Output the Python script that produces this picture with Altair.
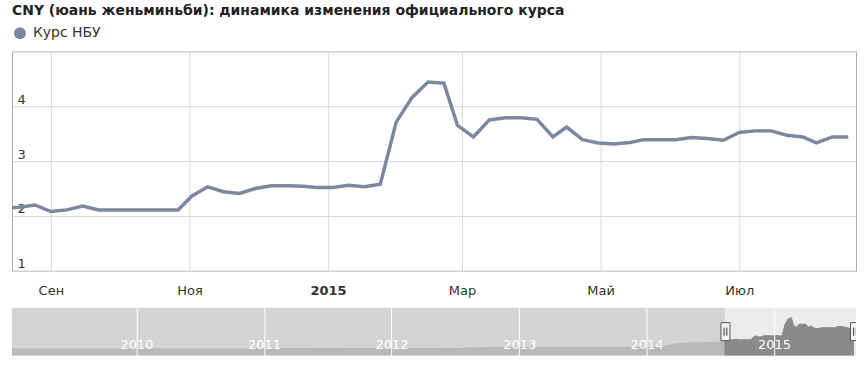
import altair as alt
import pandas as pd

# ---------------- data ----------------
dates = ["2014-08-12", "2014-08-18", "2014-08-25", "2014-09-01", "2014-09-08", "2014-09-15",
         "2014-09-22", "2014-09-29", "2014-10-06", "2014-10-13", "2014-10-20", "2014-10-27",
         "2014-11-02", "2014-11-09", "2014-11-16", "2014-11-23", "2014-11-30", "2014-12-07",
         "2014-12-14", "2014-12-21", "2014-12-27", "2015-01-03", "2015-01-10", "2015-01-17",
         "2015-01-24", "2015-01-31", "2015-02-07", "2015-02-14", "2015-02-21", "2015-02-27",
         "2015-03-06", "2015-03-13", "2015-03-20", "2015-03-27", "2015-04-03", "2015-04-10",
         "2015-04-16", "2015-04-23", "2015-04-30", "2015-05-07", "2015-05-14", "2015-05-20",
         "2015-05-28", "2015-06-03", "2015-06-10", "2015-06-17", "2015-06-24", "2015-07-01",
         "2015-07-08", "2015-07-15", "2015-07-22", "2015-07-29", "2015-08-04", "2015-08-11",
         "2015-08-18"]
rates = [2.14, 2.16, 2.20, 2.08, 2.11, 2.18,
         2.11, 2.11, 2.11, 2.11, 2.11, 2.11,
         2.36, 2.53, 2.44, 2.41, 2.50, 2.55,
         2.55, 2.54, 2.52, 2.52, 2.56, 2.53,
         2.58, 3.71, 4.16, 4.44, 4.42, 3.65,
         3.44, 3.75, 3.79, 3.79, 3.76, 3.44,
         3.62, 3.39, 3.33, 3.31, 3.34, 3.39,
         3.39, 3.39, 3.43, 3.41, 3.38, 3.52,
         3.55, 3.55, 3.47, 3.44, 3.33, 3.44,
         3.44]

nav_early_dates = ["2009-01-09", "2009-07-01", "2010-01-01", "2010-07-01", "2011-01-01",
                   "2011-07-01", "2012-01-01", "2012-07-01", "2012-10-15", "2013-07-01",
                   "2014-01-15", "2014-02-15", "2014-03-15", "2014-04-15", "2014-05-15",
                   "2014-06-15", "2014-07-15", "2014-08-05"]
nav_early_rates = [1.14, 1.14, 1.14, 1.15, 1.16,
                   1.17, 1.16, 1.17, 1.30, 1.31,
                   1.32, 1.45, 1.60, 1.75, 1.80,
                   1.83, 1.85, 1.90]

series_name = "Курс НБУ"
title_text = "CNY (юань женьминьби): динамика изменения официального курса"
month_names = ["Янв", "Фев", "Мар", "Апр", "Май", "Июн", "Июл", "Авг", "Сен", "Окт", "Ноя", "Дек"]
x_tick_dates = [(2014, 9), (2014, 11), (2015, 1), (2015, 3), (2015, 5), (2015, 7)]
y_ticks = [1, 2, 3, 4, 5]
nav_years = [2010, 2011, 2012, 2013, 2014, 2015]

# ---------------- styling ----------------
LINE = "#7b88a0"
FONT = "DejaVu Sans"
W = 846

main_df = pd.DataFrame({"date": dates, "rate": rates, "series": series_name})
nav_df = pd.DataFrame({"date": nav_early_dates + dates, "rate": nav_early_rates + rates})
sel_df = pd.DataFrame({"date": dates, "rate": rates})

view_start = alt.DateTime(year=2014, month=8, date=14, hours=21, utc=True)
view_end = alt.DateTime(year=2015, month=8, date=21, hours=10, utc=True)
nav_start = alt.DateTime(year=2009, month=1, date=9, utc=True)
nav_end = alt.DateTime(year=2015, month=8, date=24, utc=True)

names_js = "[" + ",".join("'%s'" % m for m in month_names) + "]"
x_label_expr = ("utcmonth(datum.value) == 0 ? utcFormat(datum.value, '%Y') : "
                + names_js + "[utcmonth(datum.value)]")

x_axis = alt.Axis(
    values=[alt.DateTime(year=y, month=m, date=1, utc=True) for y, m in x_tick_dates],
    labelExpr=x_label_expr, grid=True, gridColor="#d9d9d9", ticks=False, tickSize=0,
    domain=False, labelPadding=14, labelFont=FONT, labelFontSize=13, labelColor="#333333",
    labelFontWeight={"condition": {"test": "utcmonth(datum.value) == 0", "value": "bold"},
                     "value": "normal"},
    title=None,
)
y_axis = alt.Axis(
    values=y_ticks, labelExpr="datum.value == 5 ? '' : datum.label", grid=True,
    gridColor="#d9d9d9", ticks=False, tickSize=0, domain=False, labelAlign="left",
    labelBaseline="alphabetic", labelPadding=-5, labelOffset=-3, labelFont=FONT,
    labelFontSize=13, labelColor="#333333", title=None,
)

main = alt.Chart(main_df).mark_line(strokeWidth=3.5, clip=True).encode(
    x=alt.X("date:T", scale=alt.Scale(type="utc", domain=[view_start, view_end], nice=False),
            axis=x_axis),
    y=alt.Y("rate:Q", scale=alt.Scale(domain=[1, 5], nice=False, zero=False), axis=y_axis),
    color=alt.Color("series:N", scale=alt.Scale(domain=[series_name], range=[LINE]),
                    legend=alt.Legend(orient="none", legendX=1, legendY=-25, title=None,
                                      symbolType="circle", symbolSize=144,
                                      symbolFillColor=LINE, symbolStrokeColor=LINE,
                                      symbolStrokeWidth=0, labelFont=FONT, labelFontSize=14,
                                      labelColor="#333333", labelOffset=6, padding=0)),
).properties(
    width=W, height=220,
    title=alt.TitleParams(title_text, anchor="start", font=FONT, fontSize=14,
                          fontWeight="bold", color="#222222", offset=8),
    view=alt.ViewBackground(stroke="#aaaaaa", strokeWidth=1),
)

# ---------------- navigator ----------------
nav_x_scale = alt.Scale(type="utc", domain=[nav_start, nav_end], nice=False)
nav_axis = alt.Axis(
    values=[alt.DateTime(year=y, month=1, date=1, utc=True) for y in nav_years],
    labelExpr="utcFormat(datum.value, '%Y')", grid=True, gridColor="#ffffff", gridOpacity=1,
    ticks=False, tickSize=0, domain=False, labelColor="#ffffff", labelFont=FONT,
    labelFontSize=13, labelBaseline="alphabetic", labelPadding=-7, labelFlush=False,
    labelOverlap=False, zindex=1, title=None,
)
nav_y = alt.Scale(domain=[0.36, 5.5], nice=False, zero=False)

out_df = pd.DataFrame({"start": ["2009-01-09"], "end": ["2014-08-15"]})
in_df = pd.DataFrame({"start": ["2014-08-15"], "end": ["2015-08-24"]})
bg_out = alt.Chart(out_df).mark_rect(color="#d4d4d4").encode(
    x=alt.X("start:T", scale=nav_x_scale, axis=nav_axis), x2="end:T")
bg_in = alt.Chart(in_df).mark_rect(color="#ececec").encode(
    x=alt.X("start:T", scale=nav_x_scale), x2="end:T")
nav_area = alt.Chart(nav_df).mark_area(color="#b9b9b9", clip=True).encode(
    x=alt.X("date:T", scale=nav_x_scale),
    y=alt.Y("rate:Q", scale=nav_y, axis=None),
)
sel_area = alt.Chart(sel_df).mark_area(color="#8a8a8a", clip=True).encode(
    x=alt.X("date:T", scale=nav_x_scale),
    y=alt.Y("rate:Q", scale=nav_y, axis=None),
)
handle_df = pd.DataFrame({"date": ["2014-08-15", "2015-08-21"]})
handles = alt.Chart(handle_df).mark_point(
    shape="M-0.5,-1 L0.5,-1 L0.5,1 L-0.5,1 Z", size=324, filled=True, fill="#f4f4f4",
    stroke="#555555", strokeWidth=1, opacity=1, clip=True,
).encode(x=alt.X("date:T", scale=nav_x_scale), y=alt.value(24))
grips = alt.Chart(handle_df).mark_point(
    shape="M-0.15,-0.45 L-0.15,0.45 M0.15,-0.45 L0.15,0.45", size=324, filled=False,
    stroke="#333333", strokeWidth=1, opacity=1, clip=True,
).encode(x=alt.X("date:T", scale=nav_x_scale), y=alt.value(24))

nav = alt.layer(bg_out, bg_in, nav_area, sel_area, handles, grips).properties(
    width=W, height=48,
    view=alt.ViewBackground(stroke=None, strokeWidth=0),
)

chart = alt.vconcat(main, nav, spacing=9).resolve_scale(
    x="independent", y="independent", color="independent"
).properties(
    padding={"left": 11, "top": 3, "right": 9, "bottom": 13},
    background="#ffffff",
).configure_view(stroke=None)

chart.save("out.html", embed_options={"renderer": "svg", "actions": False})
